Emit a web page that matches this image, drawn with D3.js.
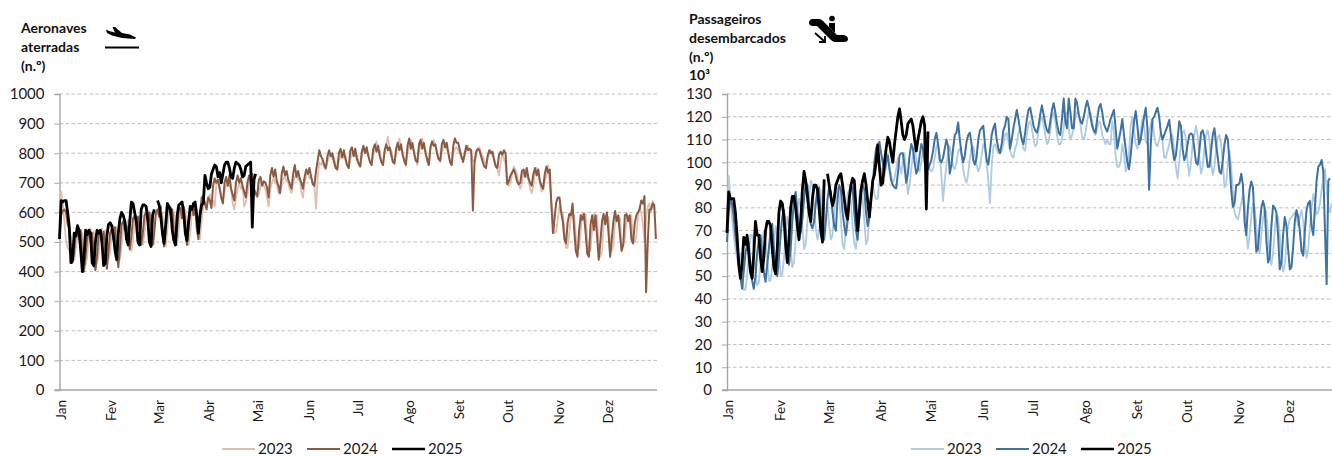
<!DOCTYPE html>
<html>
<head>
<meta charset="utf-8">
<script src="https://cdn.jsdelivr.net/npm/d3@7"></script>
<style>
html, body { margin: 0; padding: 0; background: #fff; overflow: hidden; }
svg { display: block; font-family: Lato, "Open Sans", sans-serif; }
</style>
</head>
<body>
<svg id="chart" width="1332" height="456"></svg>
<script>
var months = ["Jan","Fev","Mar","Abr","Mai","Jun","Jul","Ago","Set","Out","Nov","Dez"];
var monthStarts = [0,31,60,91,121,152,182,213,244,274,305,335];
var years = ["2023","2024","2025"];
var ticksLeft = [0,100,200,300,400,500,600,700,800,900,1000];
var ticksRight = [0,10,20,30,40,50,60,70,80,90,100,110,120,130];

// aeronaves aterradas, valores diarios (29 Fev sem dado em 2023 e 2025)
var planes2023 = [
600,670,630,570,500,480,470,
520,470,440,480,520,540,520,
530,470,425,450,530,545,525,
535,480,430,460,520,545,520,
540,485,440,470,530,555,535,
550,490,440,490,545,570,550,
575,510,470,510,570,590,570,
590,520,490,530,590,605,590,
595,535,490,null,590,605,590,
595,530,485,540,605,620,590,
600,530,490,545,600,620,600,
610,540,490,530,600,630,600,
600,540,510,570,620,635,620,
650,660,640,640,620,700,700,
690,650,640,670,690,710,690,
680,630,610,650,680,700,680,
690,620,635,660,700,710,680,
665,660,650,660,690,700,690,
680,650,620,680,700,715,700,
695,665,670,690,715,720,705,
700,675,665,700,720,730,710,
715,670,650,700,725,735,715,
720,700,690,612,720,770,760,
775,750,745,770,790,795,780,
785,760,745,775,790,800,785,
790,760,750,780,800,805,790,
795,770,755,785,815,815,800,
800,770,765,790,820,840,810,
810,770,770,800,830,855,820,
810,780,770,795,830,850,815,
805,770,770,800,835,845,820,
810,780,760,805,830,850,820,
810,770,760,810,835,845,825,
810,780,770,800,825,835,815,
800,775,760,800,815,820,810,
800,780,780,790,810,825,810,
800,775,770,790,815,820,800,
790,770,765,780,800,810,790,
785,760,745,725,770,800,780,
760,700,690,700,730,755,745,
730,695,680,700,735,745,720,
710,680,665,690,740,750,730,
700,670,680,710,720,760,700,
640,590,530,535,580,620,600,
600,540,480,480,530,590,580,
590,520,470,480,540,600,580,
595,500,470,470,550,595,570,
590,490,450,470,560,590,575,
585,495,470,490,570,590,585,
580,480,490,510,580,590,585,
590,500,500,520,580,620,600,
560,500,580,620,630,600,640,
610
];
var planes2024 = [
520,590,605,610,600,560,540,
460,430,470,530,535,510,540,
450,400,455,520,530,500,530,
450,405,455,525,530,505,535,
460,410,470,530,545,510,550,
470,415,480,560,570,540,555,
530,475,520,580,590,560,585,
540,490,530,590,600,570,600,
540,490,530,600,610,585,620,
530,485,540,605,620,590,610,
535,490,545,610,615,580,620,
535,490,550,610,620,590,625,
545,510,600,650,655,630,610,
650,640,615,690,715,700,710,
680,650,630,700,720,690,725,
680,660,640,700,725,700,715,
690,670,650,700,725,700,730,
680,665,655,710,720,690,705,
700,685,650,725,750,720,745,
705,690,665,730,755,725,740,
710,695,680,730,760,720,740,
715,700,680,720,745,730,750,
720,695,690,740,775,810,790,
780,760,750,790,810,790,800,
770,750,745,800,815,785,810,
780,760,750,810,820,790,815,
780,765,755,805,825,800,820,
790,770,760,815,830,805,825,
790,770,760,810,830,810,820,
795,770,765,815,835,810,830,
795,775,760,825,850,815,835,
800,775,770,830,845,815,835,
800,780,760,820,840,825,830,
800,780,775,830,845,820,835,
800,770,760,825,850,835,835,
810,790,770,800,825,810,815,
810,606,770,805,815,810,790,
770,755,750,790,810,800,805,
775,755,750,795,805,795,810,
800,695,705,725,735,745,730,
705,695,700,740,745,720,750,
715,700,690,730,750,725,745,
705,690,680,730,755,735,745,
630,530,580,635,650,650,600,
570,510,495,565,595,590,630,
540,470,450,540,590,575,595,
530,460,450,560,590,540,590,
520,440,500,570,595,560,600,
530,450,510,570,605,570,590,
525,470,490,590,595,570,590,
510,495,560,590,600,610,640,
630,655,330,500,610,610,630,
625,510
];
var planes2025 = [
510,640,635,640,640,600,550,
430,440,530,520,555,540,470,
400,450,540,525,540,530,430,
420,500,540,530,540,500,420,
430,520,560,565,555,520,470,
440,530,580,600,590,570,510,
490,570,635,630,600,570,500,
490,610,625,625,620,580,500,
485,590,610,null,640,625,585,
530,495,560,630,620,610,540,
505,490,590,625,630,635,600,
530,505,570,620,610,630,635,
590,530,590,625,630,725,700,
680,685,730,745,760,755,720,
735,700,730,760,770,770,750,
720,715,750,770,765,760,745,
720,725,755,760,765,770,550,
710,730
];

// passageiros desembarcados, milhares por dia
var pax2023 = [
70,94,85,75,68,62,58,55,60,50,44,44,50,60,68,68,62,52,46,47,55,65,70,66,58,48,48,54,64,72,
68,60,50,51,58,68,76,72,62,54,56,66,78,84,80,72,62,64,74,84,92,90,80,71,66,70,78,88,88,null,
82,72,66,68,78,86,89,84,74,64,62,72,86,88,82,72,64,62,74,85,89,84,74,64,66,76,84,90,86,84,
84,92,96,98,94,98,104,98,94,91,93,97,102,99,95,100,104,94,86,90,97,103,106,102,97,96,100,106,111,104,
98,97,96,97,102,107,108,104,94,83,92,99,104,107,103,98,97,100,105,106,103,97,93,91,95,102,106,107,103,99,
96,98,103,108,106,100,92,82,98,107,108,106,104,104,105,108,112,113,109,105,103,102,106,108,113,115,110,106,105,112,
117,118,115,110,107,108,114,118,120,117,112,108,109,114,120,122,118,112,108,108,110,115,121,122,115,110,112,115,120,122,
121,117,111,110,113,118,122,122,118,113,112,115,118,117,112,110,108,110,108,108,118,113,103,98,98,100,108,104,96,98,
104,116,120,114,108,106,110,114,119,116,109,108,113,117,119,112,108,107,110,113,109,102,102,105,108,112,112,105,98,93,
100,108,113,114,110,100,94,100,108,112,116,112,102,95,98,106,112,114,110,100,94.5,98,106,111,112,108,100,89,90,100,
105,98,88,78,76,75,78,82,86,82,70,62,68,76,82,80,72,62,60,68,75,80,78,68,58,55,60,70,77,76,
68,58,52,55,65,72,75,76,77,78,76,72,76,79,74,65,58,62,72,80,86,82,77,78,82,88,92,97,88,80,
78,82
];
var pax2024 = [
65,78,84,82,76,68,62,58,50,44.5,52,60,64,65,55,48,44.5,50,60,66,68,60,52,47.5,55,62,70,73,
62,55,50,58,68,76,79,70,60,55,62,74,84,87,78,73,69,75,84,91,90,80,73,71,74,82,88,89,
76,68,66,74,84,89,87,78,72,70,84,90,88,78,72,68,74,84,90,89,78,70,66,76,86,90,88,
78,72,76,84,90,100,106,108,109,104,100,96,100,103,97,92,90,89,88.5,95,103,104,104,98,91,95,
103,108,106,100,95,97,103,108,106,100,96,97,99,101,105,110,113,108,101,100,102,106,110,107,
95,99,106,112,113,117.5,110,104,100,103,109,112,113,108,101,99,102,110,114,115,116,108,101,99,
105,112,115,117,110,106,104,108,114,116,120,119,106,110,115,119,123,119,114,110,108,113,119,123,
124,120,116,114,113,116,121,125,121,117,114,113,118,123,126,122,117,113,112,119,128,118,115,128,
122,115,115,128,126,121,118,117,120,124,127,124,120,116,114,113,119,124,125.6,122,117,115,113.5,116,
119,121,123,115,106,110,114,119,112,106,100,97,103,111,118,122.5,116,108,110,115,120,124,115,88,
108,119,120,122,124,120,113,110,112,114,116,118.6,112,106,101,103,110,118,116,106,101,103,108,112,
112.7,112,106,100,99,105,113,114,111,104,98,98,105,112,115,108,102,96,95,101,108,112,110,100,
88,80.5,82,90,90,91,95,90,74,68,80,88,91.6,89,74,60.7,62,72,80,83,80,66,56,58,72,81,
80,78,68,53,56,68,76,72,62,53,54,63,74,79,76,70,61,59,70,79,82,83,72,68,80,92,98,99,101,96,70,46.5,92,93
];
var pax2025 = [
69,87,84,84,84,78,68,55,49,55,67,64,68,60,52,49,60,74,68,68,58,52,58,70,74,74,72,62,54,51,
62,78,83,82,76,64,56,66,80,85,85,80,72,66,74,88,96,92,85,78,74,84,90,90,88,80,70,65,92.5,null,
95,90,85,81,84,90,92,94,95,90,84,78,75,84,90,93,92,80,70,78,88,92,95,90,83,76,84,92,94.5,100,
107.5,98,90,91,100,106,111,109,104,100,108,114,120,123.5,118,112,110,112,117,118,119,116,110,105,110,114,118,120,116,79.5,
113.5
];

var svg = d3.select("#chart");

function drawPanel(o) {
    var x = d3.scaleLinear().domain([0, 366]).range([o.x0, o.x0 + 366 * o.pxDay]);
    var y = d3.scaleLinear().domain([0, o.ticks[o.ticks.length - 1]]).range([390, 94]);
    var g = svg.append("g");

    // grelha tracejada
    g.selectAll("line.grid")
        .data(o.ticks.slice(1))
        .join("line")
        .attr("class", "grid")
        .attr("x1", o.x0)
        .attr("x2", o.xEnd)
        .attr("y1", function(d){ return y(d); })
        .attr("y2", function(d){ return y(d); })
        .attr("stroke", "#bdbdbd")
        .attr("stroke-width", 1)
        .attr("stroke-dasharray", "3.5,2.5");

    var yAxis = d3.axisLeft(y).tickValues(o.ticks).tickSize(5).tickPadding(10).tickFormat(d3.format("d"));
    var ya = g.append("g").attr("transform", "translate(" + o.x0 + ",0)").call(yAxis);
    ya.select(".domain").attr("stroke", "#a6a6a6").attr("stroke-width", 1.4);
    ya.selectAll(".tick line").attr("stroke", "#a6a6a6");
    ya.selectAll("text").attr("font-size", 15).attr("font-family", "Lato").attr("fill", "#1a1a1a");

    var xAxis = d3.axisBottom(x).tickValues(monthStarts).tickSize(0).tickFormat(function(d, i){ return months[i]; });
    var xa = g.append("g").attr("transform", "translate(0,390)").call(xAxis);
    xa.select(".domain").remove();
    xa.selectAll("text")
        .attr("font-size", 13.5)
        .attr("font-family", "Lato")
        .attr("fill", "#1a1a1a")
        .attr("transform", "rotate(-90)")
        .attr("text-anchor", "end")
        .attr("x", -10)
        .attr("y", 1)
        .attr("dy", "0.35em");
    g.append("line")
        .attr("x1", o.x0 - 5).attr("x2", o.xEnd)
        .attr("y1", 390).attr("y2", 390)
        .attr("stroke", "#a6a6a6").attr("stroke-width", 1.4);

    var line = d3.line()
        .defined(function(d){ return d !== null; })
        .x(function(d, i){ return x(i); })
        .y(function(d){ return y(d); });

    o.series.forEach(function(s, i){
        g.append("path")
            .datum(s)
            .attr("d", line)
            .attr("fill", "none")
            .attr("stroke", o.colors[i])
            .attr("stroke-width", o.widths[i])
            .attr("stroke-linejoin", "round");
    });

    // legenda
    years.forEach(function(yr, i){
        var lx = o.legendX + i * 85;
        g.append("line")
            .attr("x1", lx).attr("x2", lx + 33)
            .attr("y1", 449).attr("y2", 449)
            .attr("stroke", o.colors[i])
            .attr("stroke-width", i == 2 ? 2.4 : 1.8);
        g.append("text")
            .attr("x", lx + 36).attr("y", 454)
            .attr("font-size", 15).attr("fill", "#1a1a1a")
            .text(yr);
    });

    // titulo
    g.selectAll("text.title")
        .data(o.title)
        .join("text")
        .attr("class", "title")
        .attr("x", o.titleX)
        .attr("y", function(d, i){ return o.titleY + i * 18.8; })
        .attr("font-size", 14)
        .attr("font-weight", 700)
        .attr("fill", "#111")
        .text(function(d){ return d; });
}

drawPanel({
    x0: 59.5, pxDay: 1.634, xEnd: 657,
    ticks: ticksLeft,
    series: [planes2023, planes2024, planes2025],
    colors: ["#dfbfb0", "#8b5a42", "#000"],
    widths: [1.8, 2, 2.8],
    legendX: 222,
    title: ["Aeronaves", "aterradas", "(n.º)"],
    titleX: 21, titleY: 33
});

drawPanel({
    x0: 727, pxDay: 1.675, xEnd: 1332,
    ticks: ticksRight,
    series: [pax2023, pax2024, pax2025],
    colors: ["#aecbe0", "#3e72a0", "#000"],
    widths: [1.8, 2, 2.8],
    legendX: 911,
    title: ["Passageiros", "desembarcados", "(n.º)", "10³"],
    titleX: 689, titleY: 24
});

// aviao a aterrar
svg.append("path")
    .attr("d", "M106 29.5 L109 31 L115 32.5 L112.5 27 L115 27 L122 33 L130 34.5 L136 37.5 L135 39 L122 38 L112 35.5 L107 33 Z")
    .attr("fill", "#000");
svg.append("line")
    .attr("x1", 105).attr("x2", 139).attr("y1", 47.6).attr("y2", 47.6)
    .attr("stroke", "#000").attr("stroke-width", 2);

// escada rolante
svg.append("path")
    .attr("d", "M812 19 L819 19 Q821 19 823 21 L837 35 L844 35 Q848 36 848 39 Q848 42 844 42 L835 42 Q833 42 831 40 L817 26 L812 26 Q809 25 809 22.5 Q809 20 812 19 Z")
    .attr("fill", "#000");
svg.append("circle").attr("cx", 832).attr("cy", 18.5).attr("r", 2.8).attr("fill", "#000");
svg.append("path").attr("d", "M829 23 L835 23 L835 33 L829 27 Z").attr("fill", "#000");
svg.append("path")
    .attr("d", "M815 33 L824 41 M825 36 L825 42 L819 42")
    .attr("fill", "none").attr("stroke", "#000").attr("stroke-width", 1.8);
</script>
</body>
</html>
